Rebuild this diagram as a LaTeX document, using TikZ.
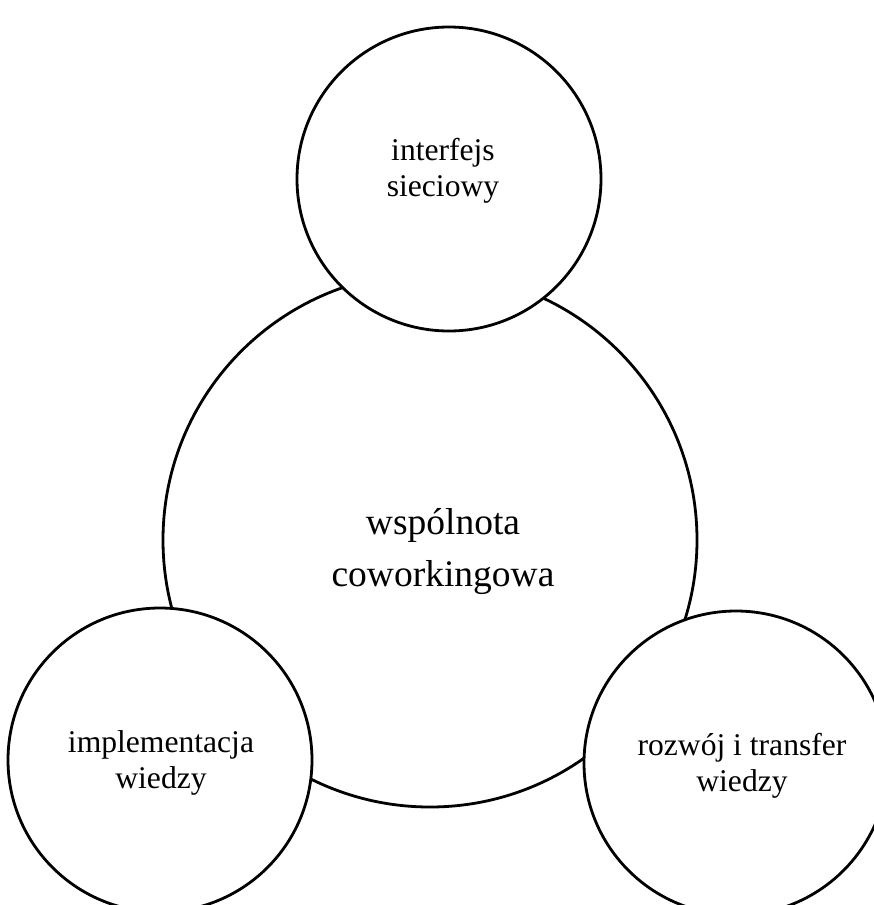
\documentclass[tikz,border=0pt]{standalone}
\usepackage{fontspec}
\setmainfont{Liberation Serif}
\begin{document}
\begin{tikzpicture}[x=1pt,y=-1pt,
  ring/.style={circle,draw=black,line width=2.8pt,fill=white,inner sep=0pt},
  smalltxt/.style={align=center,font=\fontsize{31.6}{36}\selectfont},
  bigtxt/.style={align=center,font=\fontsize{37.5}{52}\selectfont}]
\useasboundingbox (0,0) rectangle (874,905);
\begin{scope}
\clip (0,0) rectangle (874,905);
\node[ring,minimum size=534pt] (core) at (430,540) {};
\node[ring,minimum size=304pt] (top) at (449,179) {};
\node[ring,minimum size=304pt] (left) at (160,760) {};
\node[ring,minimum size=304pt] (right) at (736,763) {};
\end{scope}
\node[bigtxt] (coretxt) at (443,552) {wspólnota\\coworkingowa};
\node[smalltxt] (toptxt) at (443,171) {interfejs\\sieciowy};
\node[smalltxt] (lefttxt) at (161,763) {implementacja\\wiedzy};
\node[smalltxt] (righttxt) at (742,766) {rozwój i transfer\\wiedzy};
\end{tikzpicture}
\end{document}
